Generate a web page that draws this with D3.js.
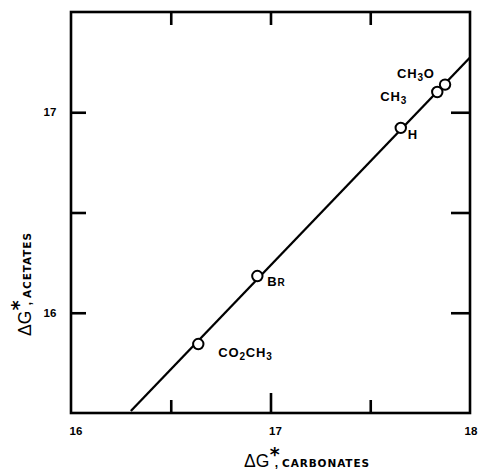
<!DOCTYPE html>
<html><head><meta charset="utf-8">
<script src="https://cdn.jsdelivr.net/npm/d3@7"></script>
<style>body{margin:0;background:#fff}svg{display:block}</style>
</head><body>
<script>
// Data
const substituents = ["CO2CH3", "Br", "H", "CH3", "CH3O"];
const carbonates = [16.638, 16.934, 17.653, 17.836, 17.875];
const acetates = [15.844, 16.183, 16.922, 17.101, 17.138];
const fitX = [16.30, 18.0];
const fitY = [15.51, 17.273];
const xTickValues = [16, 16.5, 17, 17.5, 18];
const xTickLabels = ["16", "", "17", "", "18"];
const yTickValues = [16, 16.5, 17];
const yTickLabels = ["16", "", "17"];

const W = 479, H = 476;
const m = {l: 71, r: 9, t: 12, b: 63};
const svg = d3.select("body").append("svg").attr("width", W).attr("height", H);
const x = d3.scaleLinear().domain([16, 18]).range([m.l, W - m.r]);
const y = d3.scaleLinear().domain([15.5, 17.5]).range([H - m.b, m.t]);
const font = "'Liberation Sans', Arial, sans-serif";
const wide = "'DejaVu Sans', sans-serif";

// Axes with inward ticks
const gB = svg.append("g").attr("transform", `translate(0,${y(15.5)})`)
  .call(d3.axisBottom(x).tickValues([16.5, 17, 17.5]).tickSize(-13).tickFormat(""));
const gT = svg.append("g").attr("transform", `translate(0,${y(17.5)})`)
  .call(d3.axisTop(x).tickValues([16.5, 17, 17.5]).tickSize(-13).tickFormat(""));
const gL = svg.append("g").attr("transform", `translate(${x(16)},0)`)
  .call(d3.axisLeft(y).tickValues(yTickValues).tickSize(-15).tickFormat(""));
const gR = svg.append("g").attr("transform", `translate(${x(18)},0)`)
  .call(d3.axisRight(y).tickValues(yTickValues).tickSize(-19).tickFormat(""));
[gB, gT, gL, gR].forEach(g => {
  g.select(".domain").remove();
  g.selectAll(".tick line").attr("stroke", "#000").attr("stroke-width", 2.6);
});
gB.selectAll(".tick line").filter(d => d === 17).attr("y2", -20);

// Frame
svg.append("rect").attr("x", x(16)).attr("y", y(17.5))
  .attr("width", x(18) - x(16)).attr("height", y(15.5) - y(17.5))
  .attr("fill", "none").attr("stroke", "#000").attr("stroke-width", 2.6);

// Tick labels
svg.append("g").selectAll("text").data(xTickValues.filter((d, i) => xTickLabels[i]))
  .join("text").attr("x", d => Math.min(x(d) + 5, W - 8)).attr("y", y(15.5) + 22)
  .attr("text-anchor", "middle").attr("font-family", font).attr("font-weight", "bold")
  .attr("font-size", 11.5).text(d => xTickLabels[xTickValues.indexOf(d)]);
svg.append("g").selectAll("text").data(yTickValues.filter((d, i) => yTickLabels[i]))
  .join("text").attr("x", 50).attr("y", d => y(d) + 4)
  .attr("text-anchor", "middle").attr("font-family", font).attr("font-weight", "bold")
  .attr("font-size", 11.5).text(d => yTickLabels[yTickValues.indexOf(d)]);

// Fit line
svg.append("line").attr("x1", x(fitX[0])).attr("y1", y(fitY[0]))
  .attr("x2", x(fitX[1])).attr("y2", y(fitY[1]))
  .attr("stroke", "#000").attr("stroke-width", 2.3);

// Points
svg.append("g").selectAll("circle").data(carbonates).join("circle")
  .attr("cx", d => x(d)).attr("cy", (d, i) => y(acetates[i])).attr("r", 5.2)
  .attr("fill", "#fff").attr("stroke", "#000").attr("stroke-width", 2);

// Point labels
const labelDefs = {
  "CO2CH3": {dx: 20, dy: 13, parts: [["CO", 0], ["2", 1], ["CH", 0], ["3", 1]]},
  "Br": {dx: 10, dy: 10, parts: [["B", 0], ["R", 2]]},
  "H": {dx: 7, dy: 11, parts: [["H", 0]]},
  "CH3": {dx: -57, dy: 9, parts: [["CH", 0], ["3", 1]]},
  "CH3O": {dx: -48, dy: -7, parts: [["CH", 0], ["3", 1], ["O", 0]]}
};
substituents.forEach((s, i) => {
  const def = labelDefs[s];
  const t = svg.append("text").attr("x", x(carbonates[i]) + def.dx)
    .attr("y", y(acetates[i]) + def.dy)
    .attr("font-family", font).attr("font-weight", "bold").attr("font-size", 13)
    .attr("letter-spacing", 0.8);
  let prevSub = false;
  def.parts.forEach(([str, kind]) => {
    const ts = t.append("tspan").text(str);
    if (kind === 1) { ts.attr("font-size", 10).attr("dy", 3); prevSub = true; }
    else if (kind === 2) { ts.attr("font-size", 10); if (prevSub) { ts.attr("dy", -3); prevSub = false; } }
    else if (prevSub) { ts.attr("dy", -3); prevSub = false; }
  });
});

// Axis titles
function title(sel, sub) {
  sel.append("tspan").text("ΔG").attr("font-size", 17.5).attr("font-family", font);
  sel.append("tspan").text("*").attr("font-size", 19).attr("font-weight", "bold")
    .attr("font-family", wide).attr("dy", -6).attr("dx", 0.5);
  sel.append("tspan").text(",").attr("font-size", 12).attr("font-weight", "bold")
    .attr("font-family", font).attr("dy", 6).attr("dx", -5);
  sel.append("tspan").text(sub).attr("font-size", 10.5).attr("font-weight", "bold")
    .attr("font-family", wide).attr("letter-spacing", 0.9).attr("dx", 4);
}
title(svg.append("text").attr("x", 244).attr("y", 467), "CARBONATES");
title(svg.append("text").attr("transform", "translate(31,336) rotate(-90)"), "ACETATES");
</script>
</body></html>
